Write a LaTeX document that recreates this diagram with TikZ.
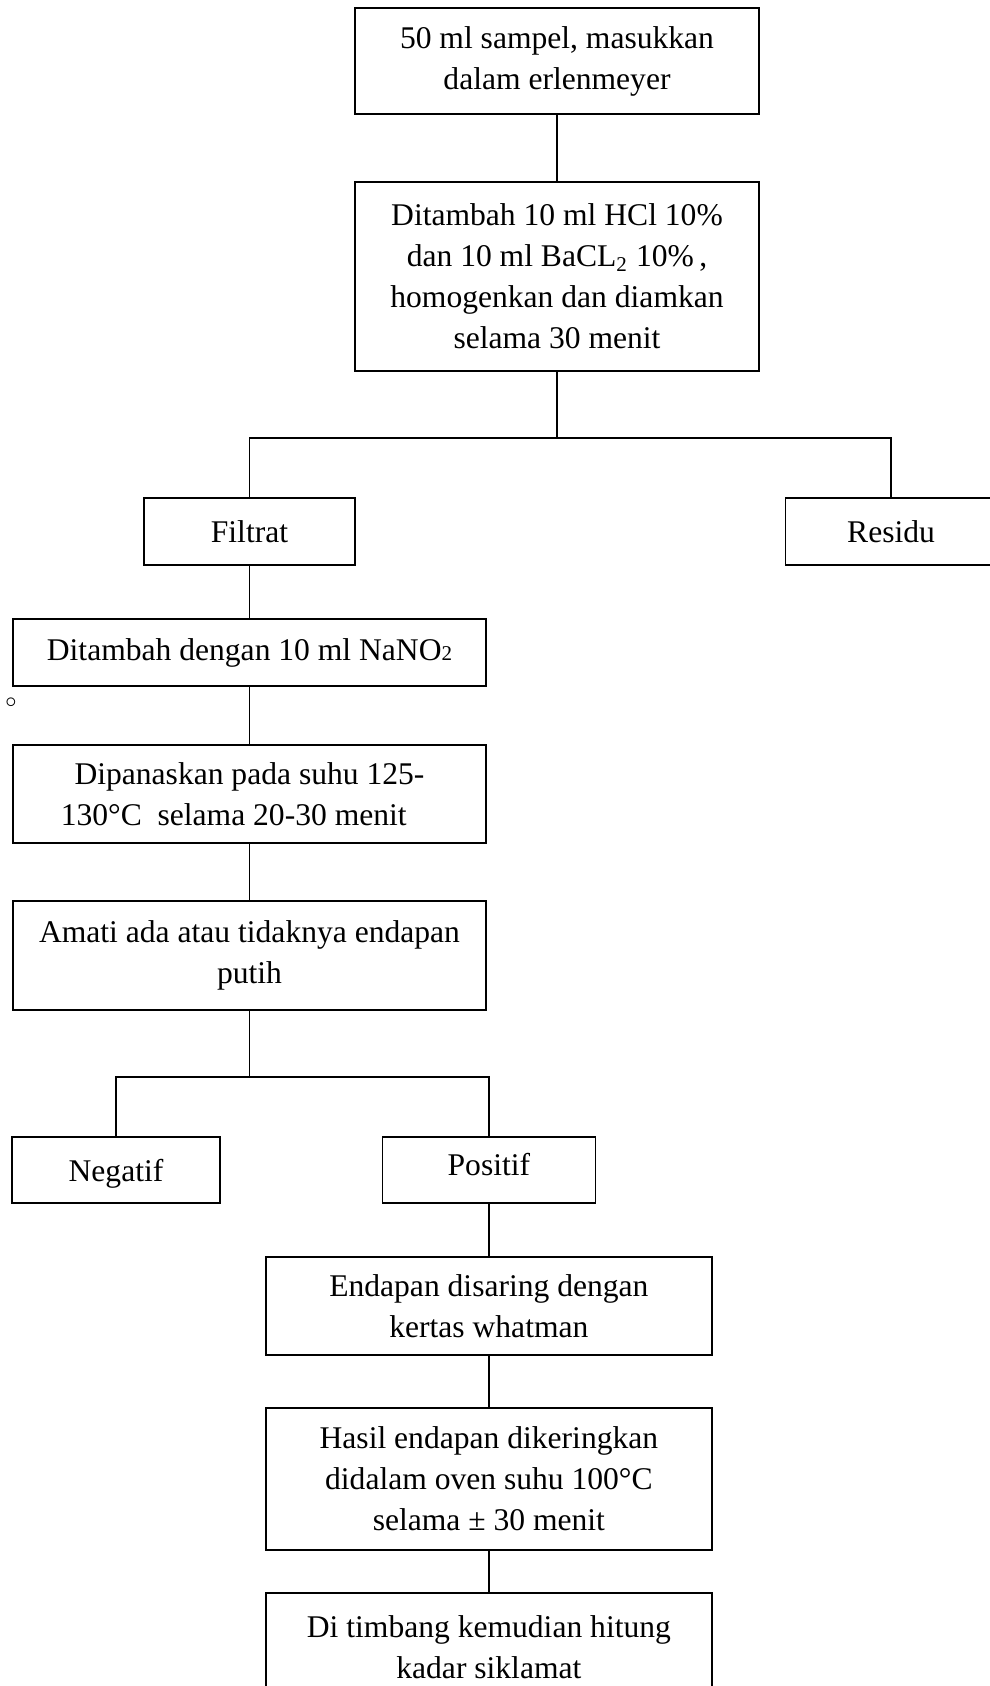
\documentclass[tikz,border=0pt]{standalone}
\usepackage{fontspec}
\setmainfont{Liberation Serif}
\usepackage{tikz}
\usetikzlibrary{positioning}
\tikzstyle{block} = [draw, fill=white, rectangle, align=center, inner sep=2pt, font=\fontsize{12}{15.6}\selectfont]
\newcommand{\smalltwo}{{\fontsize{8}{8}\selectfont 2}}

\begin{document}
\begin{tikzpicture}[x=0.38pt, y=-0.38pt, line width=0.6pt]
  \useasboundingbox (0,0) rectangle (989,1686);
  % upper column
  \node[block, minimum width=153.5pt, minimum height=40.3pt] (sampel) at (557,61) {50 ml sampel, masukkan\\dalam erlenmeyer};
  \node[block, below of=sampel, node distance=81.9pt, minimum width=153.5pt, minimum height=71.8pt] (tambahhcl) {Ditambah 10 ml HCl 10\%\\dan 10 ml BaCL\textsubscript{2} 10\%\,,\\homogenkan dan diamkan\\selama 30 menit};
  \node[block, minimum width=80.2pt, minimum height=25.5pt] (filtrat) at (249.5,531.5) {Filtrat};
  \node[block, right of=filtrat, node distance=243.8pt, minimum width=80.2pt, minimum height=25.5pt] (residu) {Residu};
  % filtrat column
  \node[block, below of=filtrat, node distance=46pt, minimum width=179.7pt, minimum height=25.5pt] (nano) {Ditambah dengan 10 ml NaNO\smalltwo};
  \node[font=\fontsize{8}{8}\selectfont, inner sep=0pt] (tanda) at (11,703) {$\circ$};
  \node[block, below of=nano, node distance=53.8pt, minimum width=179.7pt, minimum height=37.2pt] (panas) {Dipanaskan pada suhu 125-\\130°C\ \ selama 20-30 menit\hspace*{1em}};
  \node[block, below of=panas, node distance=61.4pt, minimum width=179.7pt, minimum height=41.4pt] (amati) {Amati ada atau tidaknya endapan\\putih};
  \node[block, text depth=0pt, minimum width=79pt, minimum height=25.1pt] (negatif) at (116,1170) {Negatif};
  \node[block, text depth=4pt, right of=negatif, node distance=141.7pt, minimum width=81pt, minimum height=25.1pt] (positif) {Positif};
  % positif column
  \node[block, below of=positif, node distance=51.7pt, minimum width=169.5pt, minimum height=37.2pt] (saring) {Endapan disaring dengan\\kertas whatman};
  \node[block, below of=saring, node distance=65.7pt, minimum width=169.5pt, minimum height=54pt] (oven) {Hasil endapan dikeringkan\\didalam oven suhu 100°C\\selama ± 30 menit};
  \node[block, below of=oven, node distance=64pt, minimum width=169.5pt, minimum height=41.4pt] (timbang) {Di timbang kemudian hitung\\kadar siklamat};

  \coordinate (split1) at (557,438);
  \coordinate (split2) at (249.5,1077);
  \draw (sampel) -- (tambahhcl);
  \draw (tambahhcl) -- (split1) -| (filtrat);
  \draw (split1) -| (residu);
  \draw (filtrat) -- (nano);
  \draw (nano) -- (panas);
  \draw (panas) -- (amati);
  \draw (amati) -- (split2) -| (negatif);
  \draw (split2) -| (positif);
  \draw (positif) -- (saring);
  \draw (saring) -- (oven);
  \draw (oven) -- (timbang);
\end{tikzpicture}
\end{document}
